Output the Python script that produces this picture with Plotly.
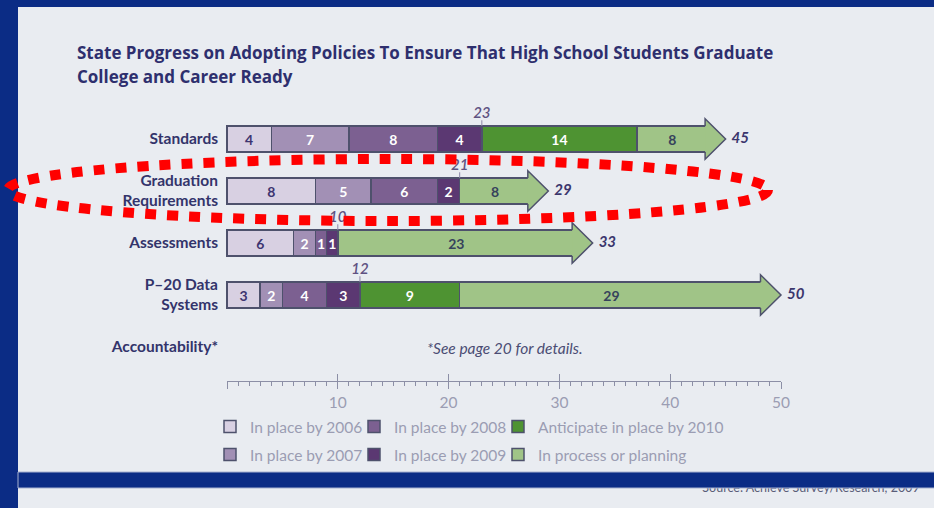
import plotly.graph_objects as go

# ---------------- data ----------------
categories = ["Standards", "Graduation<br>Requirements", "Assessments",
              "P–20 Data<br>Systems", "Accountability*"]
series_names = ["In place by 2006", "In place by 2007", "In place by 2008",
                "In place by 2009", "Anticipate in place by 2010", "In process or planning"]
by2006 = [4, 8, 6, 3, None]
by2007 = [7, 5, 2, 2, None]
by2008 = [8, 6, 1, 4, None]
by2009 = [4, 2, 1, 3, None]
by2010 = [14, None, None, 9, None]
planning = [8, 8, 23, 29, None]
axis_ticks = [0, 10, 20, 30, 40, 50]
axis_labels = ["", "10", "20", "30", "40", "50"]

title1 = "State Progress on Adopting Policies To Ensure That High School Students Graduate"
title2 = "College and Career Ready"
note = "*See page 20 for details."
source = "Source: Achieve Survey/Research, 2009"

# ---------------- style ----------------
W, H = 934, 508
FONT = "Lato, 'Open Sans', sans-serif"
TITLE_FONT = "'Open Sans', Lato, sans-serif"
DARK_BLUE = "#0b2c85"
PANEL = "#e9ecf1"
OUTLINE = "#4e516c"
colors = ["#d8d0e2", "#a290b5", "#7c6091", "#5b3872", "#4e9332", "#a0c487"]
text_colors = ["#3d3470", "#ffffff", "#ffffff", "#ffffff", "#ffffff", "#36425c"]
legend_of = ["legend", "legend2", "legend", "legend2", "legend", "legend2"]
legend_w = [99, 99, 99, 99, 220, 220]

X0_PX, X50_PX = 227, 781
PPU = (X50_PX - X0_PX) / 50.0
ROW0_PX, ROW_STEP = 139, 52
HEAD = 1.85       # arrow-head length in data units
HEAD_HALF = 0.39  # arrow-head half height (row units)
BAR_W = 0.5
OVERLAP = 0.25

xrange_bars = [-X0_PX / PPU, (W - X0_PX) / PPU]
yrange = [(H - ROW0_PX) / ROW_STEP, -ROW0_PX / ROW_STEP]


def px_x(px):
    return xrange_bars[0] + px / PPU


def px_y(py):
    return (py - ROW0_PX) / ROW_STEP


rows = list(range(len(categories)))
series = [by2006, by2007, by2008, by2009, by2010, planning]

fig = go.Figure()

for k, (name, vals) in enumerate(zip(series_names, series)):
    xs = []
    for v in vals:
        if v is None:
            xs.append(None)
        elif k == len(series) - 1:
            xs.append(v - HEAD + OVERLAP)
        else:
            xs.append(v)
    fig.add_trace(go.Bar(
        name=name, orientation="h", x=xs, y=rows, width=BAR_W,
        marker=dict(color=colors[k], line=dict(color=OUTLINE, width=1.5)),
        text=["" if v is None else str(v) for v in vals],
        textposition="inside", insidetextanchor="middle",
        textfont=dict(family=FONT, size=14, color=text_colors[k], weight="bold"),
        hoverinfo="skip", legend=legend_of[k], legendwidth=legend_w[k],
        xaxis="x", yaxis="y",
    ))

purple_sum = []
totals = []
for i in rows:
    p = sum((s[i] or 0) for s in series[:4])
    t = sum((s[i] or 0) for s in series)
    purple_sum.append(p if t else None)
    totals.append(t if t else None)

# cumulative (through 2009) labels with small ticks
tick_x, tick_y = [], []
for i in rows:
    if purple_sum[i] is not None:
        tick_x += [purple_sum[i], purple_sum[i], None]
        tick_y += [i - BAR_W / 2, i - 0.36, None]
fig.add_trace(go.Scatter(x=tick_x, y=tick_y, mode="lines",
                         line=dict(color="#8d86a8", width=1), showlegend=False,
                         hoverinfo="skip", xaxis="x", yaxis="y"))
fig.add_trace(go.Scatter(
    x=[v for v in purple_sum if v is not None],
    y=[i - 0.48 for i in rows if purple_sum[i] is not None],
    text=[str(v) for v in purple_sum if v is not None], mode="text",
    textposition="middle center",
    textfont=dict(family=FONT, size=15, color="#5f5282", style="italic", weight=600),
    showlegend=False, hoverinfo="skip", xaxis="x", yaxis="y"))

# totals at arrow tips
fig.add_trace(go.Scatter(
    x=[v for v in totals if v is not None],
    y=[i for i in rows if totals[i] is not None],
    text=[str(v) for v in totals if v is not None], mode="text+markers",
    marker=dict(size=8, opacity=0),
    textposition="middle right",
    textfont=dict(family=FONT, size=15, color="#3b366d", style="italic", weight="bold"),
    showlegend=False, hoverinfo="skip", xaxis="x", yaxis="y"))

# source line (partly hidden by the band)
fig.add_trace(go.Scatter(
    x=[px_x(811)], y=[px_y(489)], text=[source], mode="text",
    textposition="middle center",
    textfont=dict(family=FONT, size=12.5, color="#5a5d78"),
    showlegend=False, hoverinfo="skip", xaxis="x", yaxis="y"))

# invisible helpers for ruler axes
for ax in ["x2", "x3"]:
    fig.add_trace(go.Scatter(x=[0, 50], y=[4, 4], mode="markers",
                             marker=dict(opacity=0), showlegend=False,
                             hoverinfo="skip", xaxis=ax, yaxis="y"))

shapes = []
# panel background
shapes.append(dict(type="rect", xref="paper", yref="paper", x0=18 / W, x1=1.01,
                   y0=-0.01, y1=1 - 7 / H, fillcolor=PANEL, line=dict(width=0), layer="below"))
# arrow heads
for i in rows:
    if planning[i] is None:
        continue
    tip = totals[i]
    base = tip - HEAD
    shapes.append(dict(type="path", xref="x", yref="y",
                       path=f"M{base},{i - HEAD_HALF} L{tip},{i} L{base},{i + HEAD_HALF} Z",
                       fillcolor=colors[5], line=dict(width=0), layer="above"))
    shapes.append(dict(type="path", xref="x", yref="y",
                       path=(f"M{base},{i - BAR_W / 2} L{base},{i - HEAD_HALF} L{tip},{i} "
                             f"L{base},{i + HEAD_HALF} L{base},{i + BAR_W / 2}"),
                       fillcolor="rgba(0,0,0,0)", line=dict(color=OUTLINE, width=1.5),
                       layer="above"))
# bottom band
shapes.append(dict(type="rect", xref="paper", yref="paper", x0=18 / W, x1=1.01,
                   y0=1 - 488 / H, y1=1 - 472 / H, fillcolor=DARK_BLUE,
                   line=dict(color="#a7b1cf", width=1), layer="above"))
# red dotted ellipse
shapes.append(dict(type="circle", xref="paper", yref="paper",
                   x0=8 / W, x1=768 / W, y0=1 - 221 / H, y1=1 - 159 / H,
                   line=dict(color="#ff0000", width=10, dash="11px,11px"),
                   fillcolor="rgba(0,0,0,0)", layer="above"))

annotations = [
    dict(text=title1, x=75 / W, y=1 - 52 / H, xref="paper", yref="paper",
         xanchor="left", yanchor="middle", showarrow=False,
         font=dict(family=TITLE_FONT, size=17, color="#2e2f6e", weight="bold")),
    dict(text=title2, x=75 / W, y=1 - 77 / H, xref="paper", yref="paper",
         xanchor="left", yanchor="middle", showarrow=False,
         font=dict(family=TITLE_FONT, size=17, color="#2e2f6e", weight="bold")),
    dict(text=note, x=505 / W, y=1 - 348 / H, xref="paper", yref="paper",
         xanchor="center", yanchor="middle", showarrow=False,
         font=dict(family=FONT, size=15.5, color="#4b4c74", style="italic")),
]

ruler_color = "#8c8fa6"
ruler_common = dict(domain=[X0_PX / W, X50_PX / W], range=[0, 50], anchor="free",
                    position=1 - 381 / H, showgrid=False, zeroline=False,
                    fixedrange=True, automargin=False)

legend_common = dict(orientation="h", xanchor="left", yanchor="middle",
                     x=210 / W, entrywidthmode="pixels",
                     bgcolor="rgba(0,0,0,0)", traceorder="normal",
                     font=dict(family=FONT, size=15.5, color="#9b9db3"),
                     itemclick=False, itemdoubleclick=False)

fig.update_layout(
    width=W, height=H, margin=dict(l=0, r=0, t=0, b=0, pad=0, autoexpand=False),
    paper_bgcolor=DARK_BLUE, plot_bgcolor="rgba(0,0,0,0)",
    barmode="stack", showlegend=True,
    uniformtext=dict(mode="show", minsize=14),
    xaxis=dict(domain=[0, 1], range=xrange_bars, visible=False, fixedrange=True,
               automargin=False),
    xaxis2=dict(**ruler_common, showline=True, linecolor=ruler_color, linewidth=1,
                ticks="outside", ticklen=7, tickwidth=1, tickcolor=ruler_color,
                tickmode="array", tickvals=axis_ticks, ticktext=axis_labels,
                tickfont=dict(family=FONT, size=15.5, color="#9b9db3"),
                minor=dict(tickmode="linear", tick0=0, dtick=1, ticks="outside",
                           ticklen=4, tickwidth=1, tickcolor=ruler_color)),
    xaxis3=dict(**ruler_common, showline=False, ticks="inside", ticklen=7,
                tickwidth=1, tickcolor=ruler_color, tickmode="array",
                tickvals=axis_ticks, showticklabels=False),
    yaxis=dict(domain=[0, 1], range=yrange, anchor="free", position=X0_PX / W,
               tickmode="array", tickvals=rows, ticktext=[f"<b>{c}</b>" for c in categories],
               ticks="", showline=False, showgrid=False, zeroline=False,
               ticklabelstandoff=9, automargin=False, fixedrange=True,
               tickfont=dict(family=FONT, size=15.5, color="#33346b")),
    legend=dict(**legend_common, y=1 - 427 / H),
    legend2=dict(**legend_common, y=1 - 455 / H),
    shapes=shapes, annotations=annotations,
)

fig.write_html("out.html")
